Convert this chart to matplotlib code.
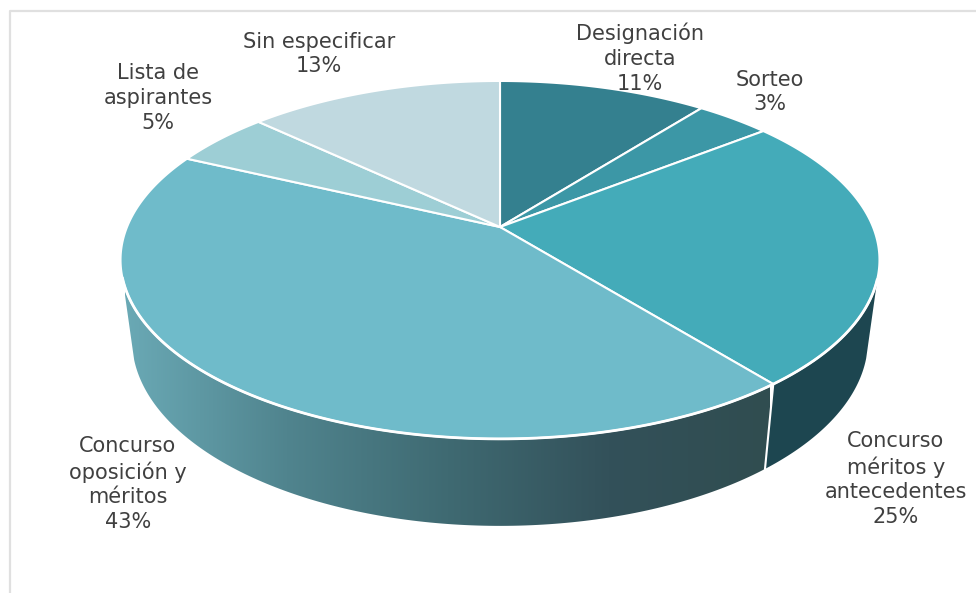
import numpy as np
from matplotlib import pyplot as plt
from matplotlib.colors import LinearSegmentedColormap
from matplotlib.patches import Polygon

labels = ['Designación\ndirecta', 'Sorteo', 'Concurso\nméritos y\nantecedentes',
          'Concurso\noposición y\nméritos', 'Lista de\naspirantes', 'Sin especificar']
shown_pct = [11, 3, 25, 43, 5, 13]
# slice sizes as measured on the drawing, slightly different from the printed ones
values = [10.6, 3.8, 24.8, 42.8, 5.0, 13.0]
colors = ['#34808f', '#3c97a6', '#44abb9', '#6fbbca', '#9dced5', '#c0d9e0']

label_x = [640, 770, 896, 128, 158, 319]
label_y = [58, 92, 479, 484, 98, 54]

# perspective of the pie top, in pixels
APEX_X, APEX_Y = 500, 227
K = 0.184
A, B = 373, 172.9
# the rim of the base
TOP_CY, TOP_HW, TOP_HH = 260, 379.5, 179
LOW_CY, LOW_HW, LOW_HH = 340, 368, 186
WALL_START = 277


def rim(f0, f1, n=200):
    t = 2 * np.pi * np.linspace(f0, f1, n)
    d = 1 + K * np.cos(t)
    return APEX_X + A * np.sin(t) / d, APEX_Y - B * np.cos(t) / d


def lower(x, y):
    return APEX_X + (x - APEX_X) * LOW_HW / TOP_HW, LOW_CY + (y - TOP_CY) * LOW_HH / TOP_HH


def wallPolygon(f0, f1):
    x, y = rim(f0, f1)
    keep = y >= WALL_START
    x, y = x[keep], y[keep]
    lx, ly = lower(x, y)
    return np.column_stack([np.r_[x, lx[::-1]], np.r_[y, ly[::-1]]])


fig = plt.figure(figsize=(9.76, 5.93), dpi=100)
ax = fig.add_axes([0, 0, 1, 1])
ax.axis('off')

# chart frame, runs off the right and bottom of the picture
ax.plot([9.5, 9.5, 976], [593, 10.5, 10.5], color='#e0e0e0', linewidth=1.6)

edges = np.cumsum([0] + values) / sum(values)

# walls
wall_cmap = LinearSegmentedColormap.from_list(
    'wall', ['#6aa9b5', '#50848e', '#3f6a72', '#33515a', '#304d50'])
front = Polygon(wallPolygon(edges[3], edges[4]), closed=True, facecolor='none', edgecolor='none')
ax.add_patch(front)
grad = ax.imshow(np.linspace(0, 1, 256).reshape(1, -1), cmap=wall_cmap, aspect='auto',
                 extent=[125, 770, 530, 280], interpolation='bilinear')
grad.set_clip_path(front)
ax.add_patch(Polygon(wallPolygon(edges[2], edges[3]), closed=True, facecolor='#1d4650', edgecolor='none'))

x, y = rim(edges[3], edges[3], 1)
lx, ly = lower(x, y)
ax.plot([x[0], lx[0]], [y[0], ly[0]], color='white', linewidth=1.5)

# top of the pie
for i in range(len(values)):
    x, y = rim(edges[i], edges[i + 1])
    pts = np.column_stack([np.r_[APEX_X, x], np.r_[APEX_Y, y]])
    ax.add_patch(Polygon(pts, closed=True, facecolor=colors[i], edgecolor='white', linewidth=1.5))

# brighter front rim
x, y = rim(edges[2], edges[4])
ax.plot(x[y >= WALL_START], y[y >= WALL_START], color='white', linewidth=2)

for i in range(len(labels)):
    ax.text(label_x[i], label_y[i], f'{labels[i]}\n{shown_pct[i]}%', ha='center', va='center',
            fontsize=15, color='#404040', linespacing=1.3)

ax.set_xlim(0, 976)
ax.set_ylim(593, 0)
fig.savefig('out.png', dpi=100)
